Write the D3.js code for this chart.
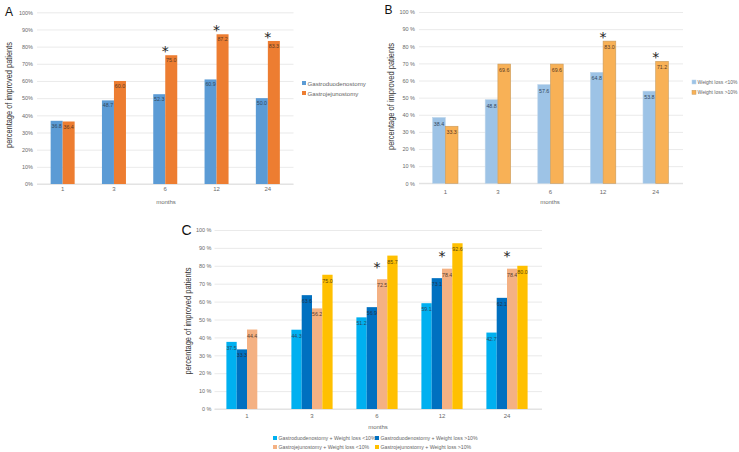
<!DOCTYPE html>
<html><head><meta charset="utf-8">
<script src="https://cdn.jsdelivr.net/npm/d3@7"></script>
<style>body{margin:0;background:#fff}svg{display:block}</style>
</head><body>
<svg id="chart" width="739" height="452"></svg>
<script>
// ---------- DATA ----------
const months = ["1", "3", "6", "12", "24"];
const yTicks = [0, 10, 20, 30, 40, 50, 60, 70, 80, 90, 100];

const seriesA = ["Gastroduodenostomy", "Gastrojejunostomy"];
const gastroduodenostomyA = [36.8, 48.7, 52.3, 60.9, 50.0];
const gastrojejunostomyA = [36.4, 60.0, 75.0, 87.2, 83.3];
const asteriskA = ["6", "12", "24"];

const seriesB = ["Weight loss <10%", "Weight loss >10%"];
const weightLossUnder10B = [38.4, 48.8, 57.6, 64.8, 53.8];
const weightLossOver10B = [33.3, 69.6, 69.6, 83.0, 71.2];
const asteriskB = ["12", "24"];

const seriesC = [
  "Gastroduodenostomy + Weight loss <10%",
  "Gastroduodenostomy + Weight loss >10%",
  "Gastrojejunostomy + Weight loss <10%",
  "Gastrojejunostomy + Weight loss >10%"
];
const gdUnder10C = [37.5, 44.3, 51.2, 59.1, 42.7];
const gdOver10C = [33.3, 63.6, 56.9, 73.1, 62.1];
const gjUnder10C = [44.4, 56.2, 72.5, 78.4, 78.4];
const gjOver10C = [null, 75.0, 85.7, 92.6, 80.0];
const asteriskC = ["6", "12", "24"];

// ---------- DRAWING ----------
const svg = d3.select("#chart");
const FONT = "'Liberation Sans', Arial, sans-serif";

function drawPanel(cfg) {
  const g = svg.append("g");
  const x = d3.scaleBand().domain(months).range(cfg.xRange).padding(0);
  const y = d3.scaleLinear().domain([0, 100]).range(cfg.yRange);
  const n = cfg.series.length;
  const inner = d3.scaleBand().domain(d3.range(n))
    .range([x.bandwidth() / 2 - n * cfg.barW / 2, x.bandwidth() / 2 + n * cfg.barW / 2]);

  // grid + y tick labels
  const yAxis = g.append("g")
    .attr("transform", `translate(${cfg.xRange[0]},0)`)
    .call(d3.axisLeft(y).tickValues(yTicks).tickSize(-(cfg.gridEnd - cfg.xRange[0]))
      .tickPadding(cfg.yPad).tickFormat(d => d + cfg.pct));
  yAxis.select(".domain").remove();
  yAxis.selectAll("line").attr("stroke", "#e4e4e4").attr("stroke-width", 0.8);
  yAxis.selectAll("text").attr("font-family", FONT).attr("font-size", 5.5).attr("fill", "#6a6a6a");

  // x axis labels
  const xAxis = g.append("g")
    .attr("transform", `translate(0,${cfg.yRange[0]})`)
    .call(d3.axisBottom(x).tickSize(0).tickPadding(cfg.xPad));
  xAxis.select(".domain").attr("stroke", "#d9d9d9").attr("stroke-width", 0.8)
    .attr("d", `M${cfg.xRange[0]},0H${cfg.gridEnd}`);
  xAxis.selectAll("text").attr("font-family", FONT).attr("font-size", 6).attr("fill", "#6a6a6a");

  // bars
  cfg.values.forEach((vals, si) => {
    const grp = g.append("g");
    months.forEach((m, i) => {
      const v = vals[i];
      if (v == null) return;
      const bx = x(m) + inner(si);
      grp.append("rect")
        .attr("x", bx).attr("y", y(v))
        .attr("width", cfg.barW).attr("height", y(0) - y(v))
        .attr("fill", cfg.colors[si])
        .attr("stroke", cfg.strokes ? cfg.strokes[si] : "none")
        .attr("stroke-width", 0.6);
      grp.append("text")
        .attr("x", bx + cfg.barW / 2).attr("y", y(v) + cfg.labelDy)
        .attr("text-anchor", "middle")
        .attr("font-family", FONT).attr("font-size", 5.3)
        .attr("fill", cfg.labelColor[si])
        .text(v.toFixed(1));
    });
  });

  // asterisks
  cfg.asterisks.forEach(m => {
    const i = months.indexOf(m);
    const ref = cfg.asteriskRef != null ? cfg.values[cfg.asteriskRef][i]
      : d3.max(cfg.values, s => s[i]);
    g.append("text")
      .attr("x", x(m) + x.bandwidth() / 2)
      .attr("y", y(ref + cfg.asteriskOffset) + 7.5)
      .attr("text-anchor", "middle")
      .attr("font-family", "'DejaVu Sans', sans-serif").attr("font-size", 14)
      .attr("fill", "#222").text("*");
  });

  // y axis title
  g.append("text")
    .attr("transform", `translate(${cfg.yTitle[0]},${cfg.yTitle[1]}) rotate(-90)`)
    .attr("text-anchor", "middle").attr("dominant-baseline", "central")
    .attr("font-family", FONT).attr("font-size", 9.5).attr("fill", "#333")
    .attr("textLength", cfg.yTitle[2]).attr("lengthAdjust", "spacingAndGlyphs")
    .text("percentage of improved patients");

  // x axis title
  g.append("text")
    .attr("x", cfg.xTitle[0]).attr("y", cfg.xTitle[1])
    .attr("text-anchor", "middle")
    .attr("font-family", FONT).attr("font-size", 6).attr("fill", "#6a6a6a")
    .text("months");

  // panel letter
  g.append("text")
    .attr("x", cfg.letter[1]).attr("y", cfg.letter[2])
    .attr("font-family", FONT).attr("font-size", cfg.letter[3]).attr("fill", "#111")
    .text(cfg.letter[0]);

  // legend
  cfg.series.forEach((s, si) => {
    const p = cfg.legendPos[si];
    g.append("rect").attr("x", p[0]).attr("y", p[1] - 2)
      .attr("width", 4).attr("height", 4).attr("fill", cfg.colors[si])
      .attr("stroke", cfg.strokes ? cfg.strokes[si] : "none").attr("stroke-width", 0.5);
    g.append("text").attr("x", p[0] + 5.5).attr("y", p[1])
      .attr("dominant-baseline", "central")
      .attr("font-family", FONT).attr("font-size", cfg.legendFont).attr("fill", "#666")
      .text(s);
  });
}

drawPanel({
  series: seriesA,
  values: [gastroduodenostomyA, gastrojejunostomyA],
  colors: ["#5B9BD5", "#ED7D31"],
  labelColor: ["#34495e", "#5a3a24"],
  xRange: [37, 293.5], gridEnd: 293.5, yRange: [184, 12.3],
  barW: 12, pct: "%", yPad: 4, xPad: 3, labelDy: 7,
  asterisks: asteriskA, asteriskOffset: 4,
  yTitle: [8.5, 95, 106], xTitle: [166, 204], letter: ["A", 5, 15.5, 12],
  legendPos: [[302, 83], [302, 93]], legendFont: 6.1
});

drawPanel({
  series: seriesB,
  values: [weightLossUnder10B, weightLossOver10B],
  colors: ["#9DC3E6", "#F8B156"],
  strokes: ["#bcd4ea", "#c99a5a"],
  labelColor: ["#34495e", "#5a3a24"],
  xRange: [419, 682], gridEnd: 683, yRange: [183.3, 12],
  barW: 12.7, pct: " %", yPad: 4, xPad: 6, labelDy: 8,
  asterisks: asteriskB, asteriskOffset: 4,
  yTitle: [390, 96.5, 107], xTitle: [550, 204], letter: ["B", 384.5, 13.5, 12],
  legendPos: [[692, 82], [692, 92.3]], legendFont: 5
});

drawPanel({
  series: seriesC,
  values: [gdUnder10C, gdOver10C, gjUnder10C, gjOver10C],
  colors: ["#00B0F0", "#0070C0", "#F4B183", "#FFC000"],
  labelColor: ["#2d4a5e", "#1f3550", "#5a3e2e", "#5a4410"],
  xRange: [214.5, 539.5], gridEnd: 542, yRange: [409, 230],
  barW: 10.3, pct: " %", yPad: 3, xPad: 4.7, labelDy: 8,
  asterisks: asteriskC, asteriskRef: 2, asteriskOffset: 8.5,
  yTitle: [187, 321, 107], xTitle: [378, 429], letter: ["C", 181.5, 235, 14],
  legendPos: [[273, 438], [375, 438], [273, 447], [375, 447]], legendFont: 5.2
});
</script>
</body></html>
